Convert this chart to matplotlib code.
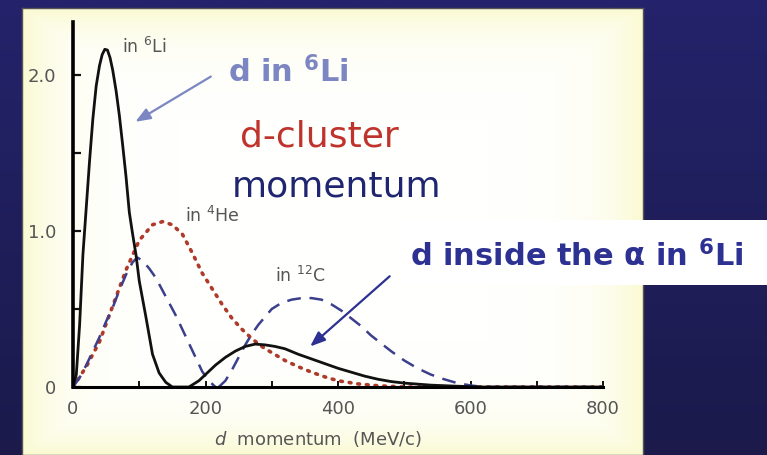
import numpy as np
import matplotlib
matplotlib.use("Agg")
import matplotlib.pyplot as plt
from matplotlib.patches import Rectangle

# d momentum (MeV/c) vs distribution
li6_x = [0, 5, 10, 15, 20, 25, 30, 35, 40, 44, 48, 52, 56, 60, 65, 70, 75, 80, 85, 90, 95,
         100, 110, 120, 130, 140, 150, 160, 175, 190, 200, 215, 230, 245, 260, 275, 290,
         305, 320, 340, 360, 380, 400, 420, 440, 460, 480, 500, 540, 580, 620, 800]
li6_y = [0, 0.08, 0.4, 0.85, 1.15, 1.45, 1.72, 1.93, 2.06, 2.13, 2.165, 2.16, 2.11, 2.03,
         1.9, 1.74, 1.55, 1.35, 1.12, 0.98, 0.85, 0.68, 0.45, 0.21, 0.09, 0.03, 0.0, 0.0,
         0.0, 0.04, 0.08, 0.14, 0.19, 0.23, 0.26, 0.275, 0.27, 0.26, 0.245, 0.21, 0.18,
         0.15, 0.12, 0.095, 0.07, 0.05, 0.035, 0.025, 0.012, 0.005, 0.0, 0.0]

he4_x = [0, 20, 40, 60, 80, 100, 120, 135, 150, 165, 180, 195, 210, 225, 240, 255, 270, 285,
         300, 320, 340, 360, 380, 400, 430, 460, 500, 800]
he4_y = [0, 0.13, 0.29, 0.52, 0.75, 0.94, 1.04, 1.06, 1.04, 0.98, 0.86, 0.73, 0.63, 0.53,
         0.44, 0.37, 0.31, 0.26, 0.22, 0.17, 0.13, 0.095, 0.065, 0.04, 0.02, 0.008, 0.0, 0.0]

# dashed: inner part (low momentum) and 12C part
dash1_x = [0, 10, 20, 30, 40, 50, 60, 70, 80, 90, 97, 105, 115, 125, 135, 145, 155, 165,
           175, 185, 195, 205, 215]
dash1_y = [0, 0.06, 0.14, 0.23, 0.32, 0.42, 0.51, 0.62, 0.72, 0.8, 0.83, 0.81, 0.76, 0.7,
           0.62, 0.54, 0.46, 0.37, 0.28, 0.19, 0.1, 0.04, 0.0]
c12_x = [220, 230, 240, 250, 260, 270, 280, 290, 300, 315, 330, 345, 360, 375, 390, 405,
         420, 435, 450, 465, 480, 500, 520, 540, 560, 580, 600, 620, 800]
c12_y = [0, 0.04, 0.11, 0.19, 0.27, 0.34, 0.40, 0.45, 0.50, 0.54, 0.56, 0.57, 0.57, 0.56,
         0.53, 0.49, 0.44, 0.39, 0.33, 0.28, 0.23, 0.17, 0.12, 0.08, 0.05, 0.025, 0.01, 0.0, 0.0]

xticks = [0, 200, 400, 600, 800]
yticks = [0, 1.0, 2.0]
ytick_labels = ["0", "1.0", "2.0"]

W, H = 767, 455
fig = plt.figure(figsize=(W / 100, H / 100), dpi=100)

# navy slide background
bg = fig.add_axes([0, 0, 1, 1], zorder=-3)
grad = np.linspace(0, 1, 256).reshape(-1, 1)
bg.imshow(grad, aspect="auto", extent=[0, 1, 0, 1],
          cmap=matplotlib.colors.LinearSegmentedColormap.from_list("n", ["#24236b", "#1b1a4b"]))
bg.set_axis_off()

# cream panel with a faint yellow glow at the edges
pn = fig.add_axes([22 / W, 0, 621 / W, 447 / H], zorder=-2)
gx = np.linspace(-1, 1, 300)
gy = np.linspace(-1, 1, 220)
X, Y = np.meshgrid(gx, gy)
edge = np.clip(np.maximum(np.abs(X) ** 8, np.abs(Y) ** 8), 0, 1)
pn.imshow(edge, aspect="auto", extent=[0, 1, 0, 1], vmin=0, vmax=1,
          cmap=matplotlib.colors.LinearSegmentedColormap.from_list("p", ["#fffffd", "#fafad2"]))
pn.set_xlim(0, 1)
pn.set_ylim(0, 1)
for s in pn.spines.values():
    s.set_color("#555555")
    s.set_linewidth(1)
pn.set_xticks([])
pn.set_yticks([])

# white strip behind the second label
fig.add_artist(Rectangle((400 / W, 170 / H), 367 / W, 65 / H, transform=fig.transFigure,
                         facecolor="white", edgecolor="none", zorder=-1))

ax = fig.add_axes([73 / W, 68 / H, 530 / W, 365 / H], zorder=1)
ax.patch.set_alpha(0)

ax.plot(he4_x, he4_y, color="#b03a2a", lw=2.6, linestyle=(0, (0.5, 1.9)),
        dash_capstyle="round")
ax.plot(dash1_x, dash1_y, color="#3b3f8c", lw=1.8, linestyle=(0, (5.5, 3.5)))
ax.plot(c12_x, c12_y, color="#3b3f8c", lw=1.8, linestyle=(0, (5.5, 3.5)))
ax.plot(li6_x, li6_y, color="#111111", lw=2.0)

ax.set_xlim(0, 800)
ax.set_ylim(0, 2.34)
ax.spines["top"].set_visible(False)
ax.spines["right"].set_visible(False)
ax.spines["left"].set_linewidth(2.6)
ax.spines["bottom"].set_linewidth(2.2)
ax.set_xticks(xticks)
ax.set_xticks([100, 300, 500, 700], minor=True)
ax.set_yticks(yticks)
ax.set_yticklabels(ytick_labels)
ax.set_yticks([0.5, 1.5], minor=True)
ax.tick_params(which="both", direction="in", colors="#111111", labelcolor="#555555",
               labelsize=13)
ax.tick_params(axis="y", which="both", length=6, width=1.6, pad=12)
ax.tick_params(axis="x", which="both", length=4, width=1.4, pad=9)

ax.set_xlabel("$d$  momentum  (MeV/c)", fontsize=13, color="#555555")
ax.xaxis.set_label_coords(0.462, -0.115)

grey = "#555555"
ax.text(74, 2.14, r"in $^{6}$Li", fontsize=12.5, color=grey)
ax.text(169, 1.06, r"in $^{4}$He", fontsize=12.5, color=grey)
ax.text(305, 0.67, r"in $^{12}$C", fontsize=12.5, color=grey)

light = "#7b86c2"
ax.text(234, 1.955, r"d in $^{\mathbf{6}}$Li", fontsize=22, fontweight="bold", color=light)
ax.annotate("", xy=(94, 1.70), xytext=(208, 1.99),
            arrowprops=dict(arrowstyle="-|>,head_length=0.9,head_width=0.35",
                            color=light, lw=1.6, shrinkA=0, shrinkB=0))

ax.text(252, 1.54, "d-cluster", fontsize=26, color="#c0322c")
ax.text(240, 1.22, "momentum", fontsize=26, color="#1f2570")

navy = "#2c3192"
ax.text(509, 0.77, "d inside the \u03b1 in $^{\\mathbf{6}}$Li", fontsize=22,
        fontweight="bold", color=navy, clip_on=False)
ax.annotate("", xy=(358, 0.26), xytext=(478, 0.71),
            arrowprops=dict(arrowstyle="-|>,head_length=0.9,head_width=0.35",
                            color=navy, lw=1.6, shrinkA=0, shrinkB=0))

fig.savefig("out.png", dpi=100)
